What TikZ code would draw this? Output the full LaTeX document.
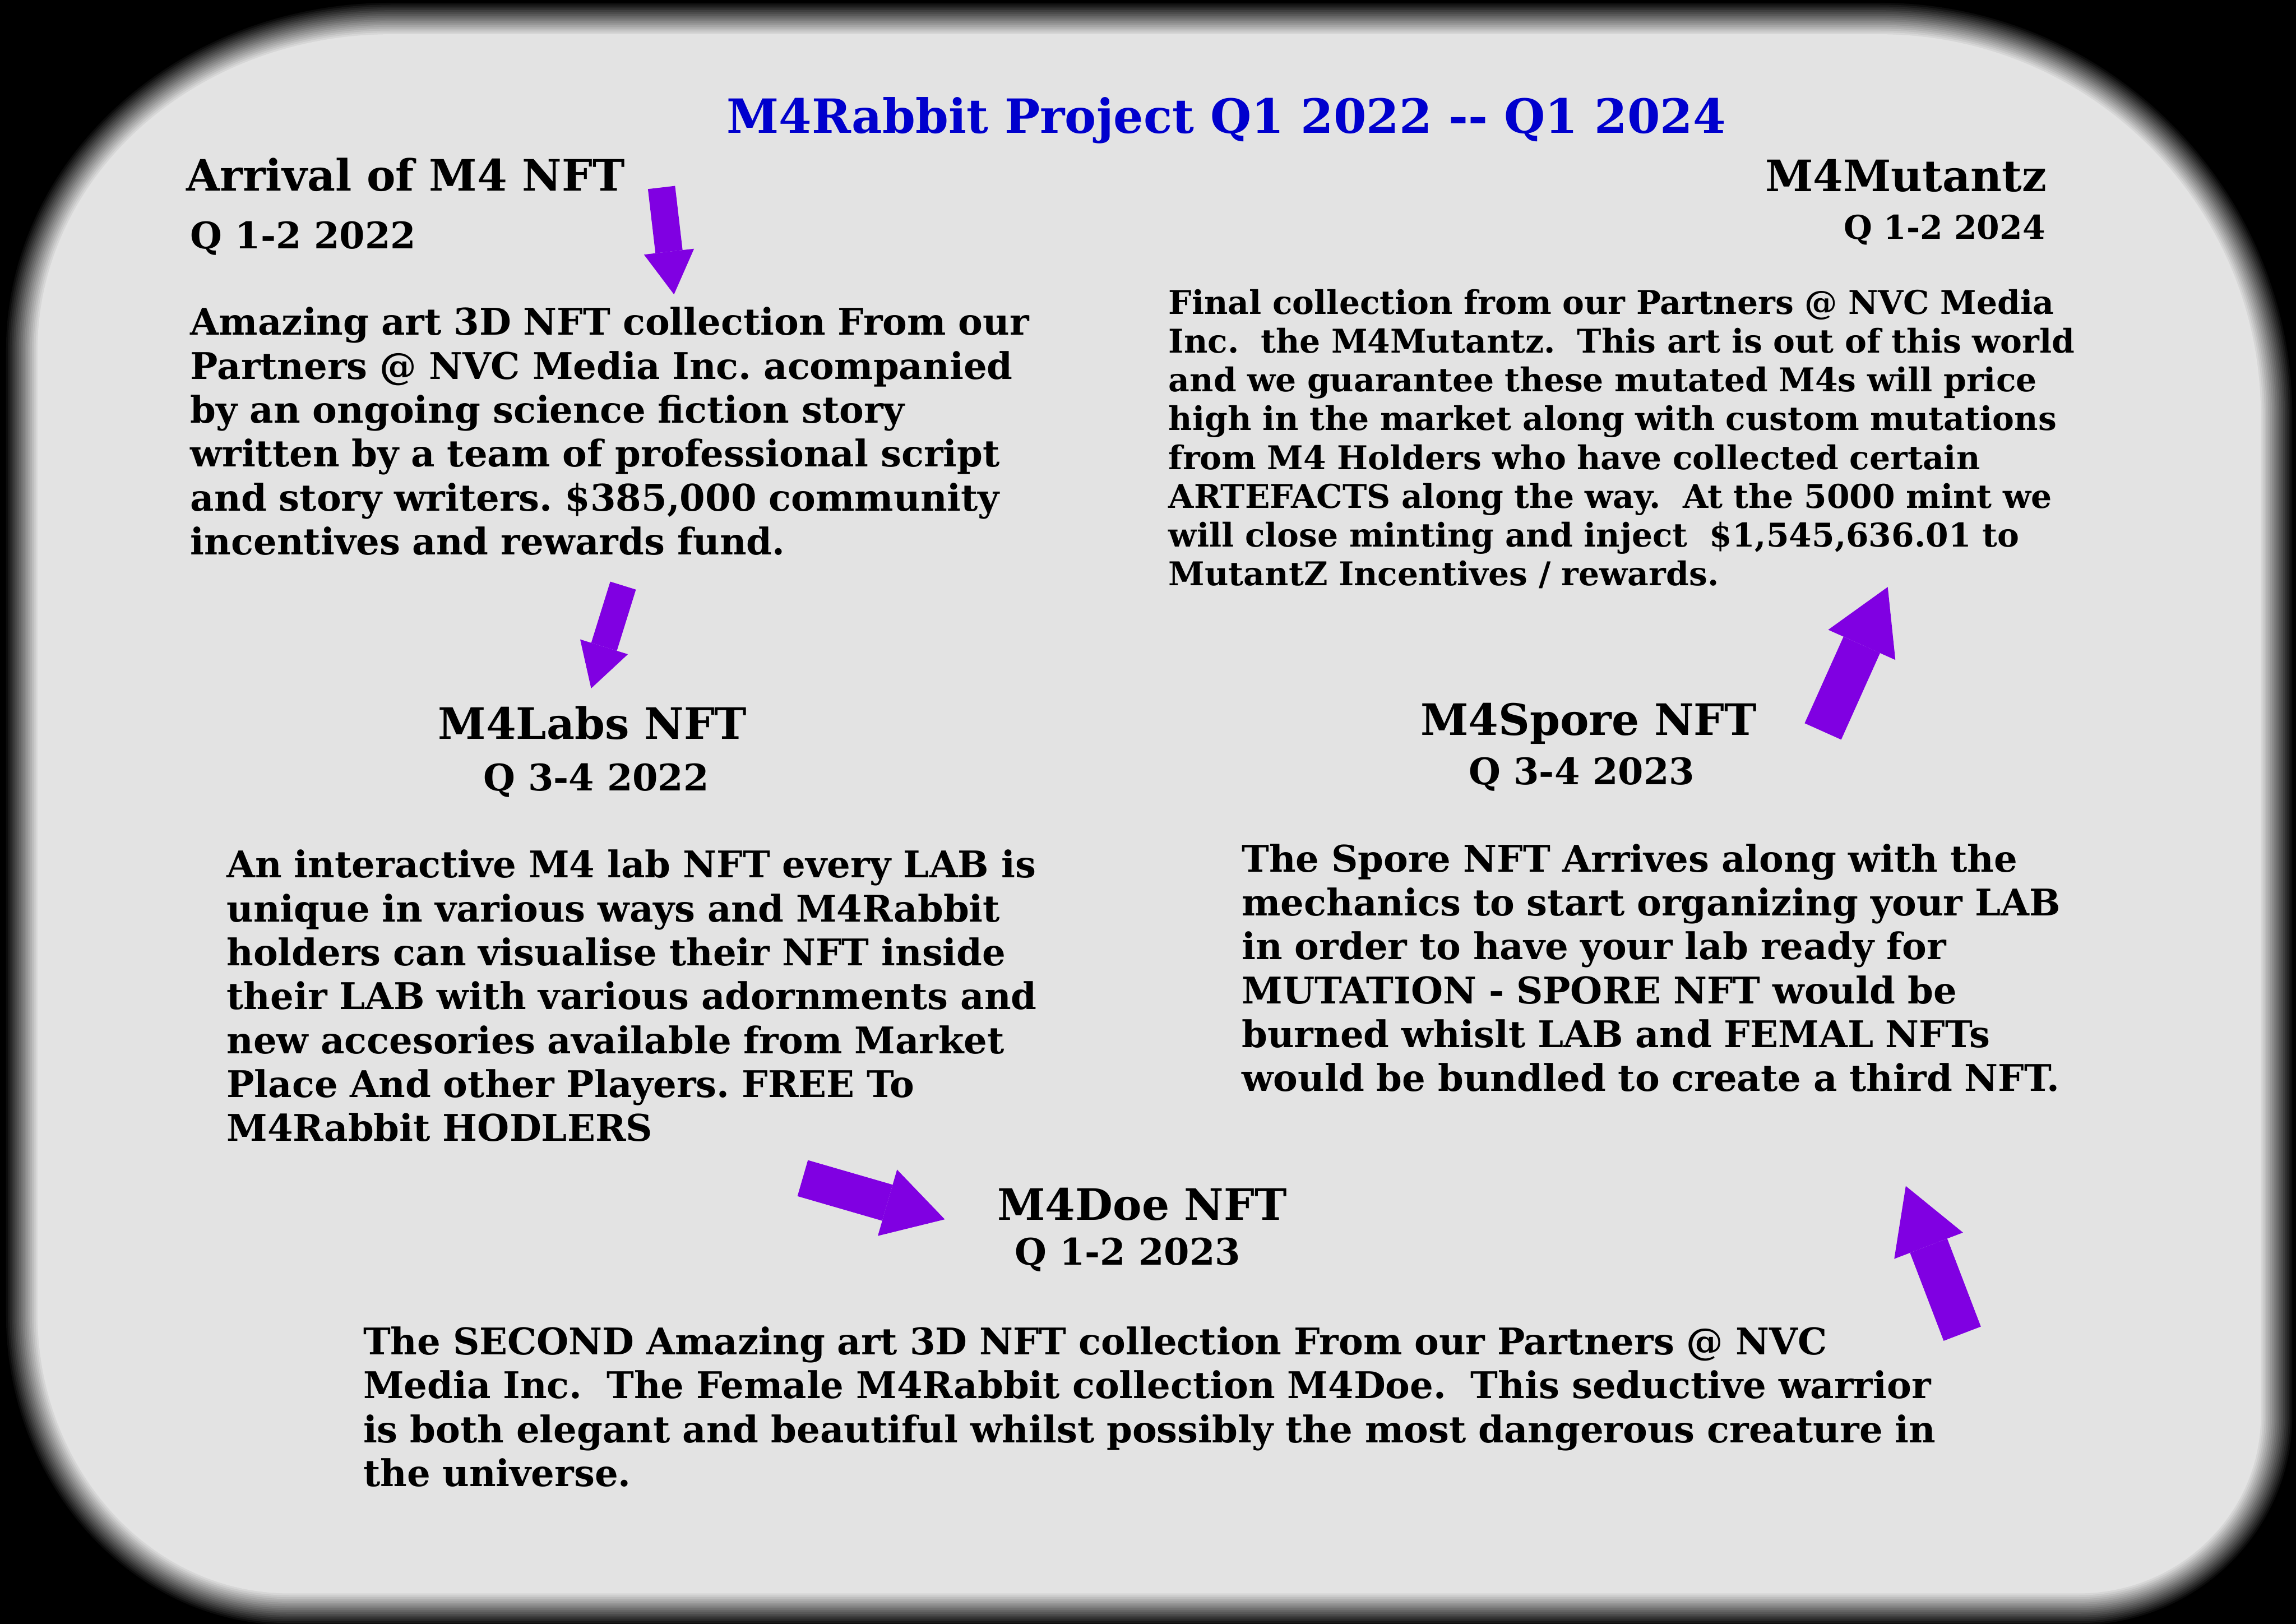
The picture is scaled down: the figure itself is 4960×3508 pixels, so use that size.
\documentclass[tikz,border=0pt]{standalone}
\usepackage{fontspec}
\setmainfont{DejaVu Serif}
\usetikzlibrary{arrows.meta}
\definecolor{panelgray}{RGB}{227,227,227}
\definecolor{titleblue}{RGB}{0,0,205}
\definecolor{arrowpurple}{RGB}{128,0,226}
\frenchspacing
% rounded panel, inset by #1 (in 0.1mm units)
\newcommand\panelpath[1]{%
  ({45+(#1)},758) .. controls ({45+(#1)},{38+(#1)+(720-(#1))*0.4477}) and ({45+(#1)+(800-(#1))*0.4477},{38+(#1)}) .. (845,{38+(#1)})
  -- (4060,{38+(#1)}) .. controls ({4920-(#1)-(860-(#1))*0.4477},{38+(#1)}) and ({4920-(#1)},{38+(#1)+(860-(#1))*0.4477}) .. ({4920-(#1)},898)
  -- ({4920-(#1)},3058) .. controls ({4920-(#1)},{3478-(#1)-(420-(#1))*0.4477}) and ({4920-(#1)-(430-(#1))*0.4477},{3478-(#1)}) .. (4490,{3478-(#1)})
  -- (625,{3478-(#1)}) .. controls ({45+(#1)+(580-(#1))*0.4477},{3478-(#1)}) and ({45+(#1)},{3478-(#1)-(640-(#1))*0.4477}) .. ({45+(#1)},2838) -- cycle}

\begin{document}
\begin{tikzpicture}[x=0.1mm, y=-0.1mm,
  title/.style={font=\fontsize{29}{34}\selectfont\bfseries, text=titleblue, inner sep=0pt, anchor=base west},
  heading/.style={font=\fontsize{26.6}{32}\selectfont\bfseries, inner sep=0pt, anchor=base west},
  quarter/.style={font=\fontsize{22.5}{27}\selectfont\bfseries, inner sep=0pt, anchor=base west},
  blurb/.style={font=\fontsize{22.6}{27}\selectfont\bfseries, inner sep=0pt, anchor=base west, text width=45cm, align=left},
  fatarrow/.style n args={3}{draw=arrowpurple, line width=#1, -{Triangle[length=#3, width=#2, line width=0pt]}}]
	\useasboundingbox (0,0) rectangle (4960,3508);
	\fill[black] (0,0) rectangle (4960,3508);
	\foreach \i in {0,...,18} {
		\pgfmathsetmacro\d{-36+4*\i}
		\pgfmathsetmacro\p{100*\i/18}
		\fill[panelgray!\p!black] \panelpath{\d};
	}
	\node[title] (ttl) at (1569,288) {M4Rabbit Project Q1 2022 -{}- Q1 2024};
	% Q1-2 2022
	\node[heading] (arrival) at (402,412) {Arrival of M4 NFT};
	\node[quarter] (arrivalq) at (411,537) {Q 1-2 2022};
	\node[blurb] (arrivaltxt) at (411,724) {Amazing art 3D NFT collection From our\\
		Partners @ NVC Media Inc. acompanied\\
		by an ongoing science fiction story\\
		written by a team of professional script\\
		and story writers. \$385,000 community\\
		incentives and rewards fund.};
	% Q3-4 2022
	\node[heading] (labs) at (946,1597) {M4Labs NFT};
	\node[quarter] (labsq) at (1044,1708) {Q 3-4 2022};
	\node[blurb] (labstxt) at (489,1896) {An interactive M4 lab NFT every LAB is\\
		unique in various ways and M4Rabbit\\
		holders can visualise their NFT inside\\
		their LAB with various adornments and\\
		new accesories available from Market\\
		Place And other Players. FREE To\\
		M4Rabbit HODLERS};
	% Q1-2 2023
	\node[heading] (doe) at (2154,2635) {M4Doe NFT};
	\node[quarter] (doeq) at (2192,2733) {Q 1-2 2023};
	\node[blurb] (doetxt) at (784,2926) {The SECOND Amazing art 3D NFT collection From our Partners @ NVC\\
		Media Inc.~ The Female M4Rabbit collection M4Doe.~ This seductive warrior\\
		is both elegant and beautiful whilst possibly the most dangerous creature in\\
		the universe.};
	% Q3-4 2023
	\node[heading] (spore) at (3068,1588) {M4Spore NFT};
	\node[quarter] (sporeq) at (3173,1695) {Q 3-4 2023};
	\node[blurb] (sporetxt) at (2682,1883) {The Spore NFT Arrives along with the\\
		mechanics to start organizing your LAB\\
		in order to have your lab ready for\\
		MUTATION - SPORE NFT would be\\
		burned whislt LAB and FEMAL NFTs\\
		would be bundled to create a third NFT.};
	% Q1-2 2024
	\node[heading, anchor=base east] (mutantz) at (4422,414) {M4Mutantz};
	\node[quarter, font=\fontsize{20.1}{24}\selectfont\bfseries, anchor=base east] (mutantzq) at (4419,516) {Q 1-2 2024};
	\node[blurb, font=\fontsize{20.1}{23.8}\selectfont\bfseries] (mutantztxt) at (2524,679) {Final collection from our Partners @ NVC Media\\
		Inc.~ the M4Mutantz.~ This art is out of this world\\
		and we guarantee these mutated M4s will price\\
		high in the market along with custom mutations\\
		from M4 Holders who have collected certain\\
		ARTEFACTS along the way.~ At the 5000 mint we\\
		will close minting and inject~ \$1,545,636.01 to\\
		MutantZ Incentives / rewards.};
	% arrows
	\coordinate (a1s) at (1429,405); \coordinate (a1e) at (1456,636);
	\coordinate (a2s) at (1346,1265); \coordinate (a2e) at (1277,1487);
	\coordinate (a3s) at (1734,2545); \coordinate (a3e) at (2041,2634);
	\coordinate (a4s) at (4239,2881); \coordinate (a4e) at (4117,2562);
	\coordinate (a5s) at (3938,1580); \coordinate (a5e) at (4078,1268);
	\draw[fatarrow={5.9mm}{10.9mm}{9.3mm}] (a1s) -- (a1e);
	\draw[fatarrow={5.8mm}{10.8mm}{9.4mm}] (a2s) -- (a2e);
	\draw[fatarrow={8.1mm}{14.9mm}{12.9mm}] (a3s) -- (a3e);
	\draw[fatarrow={8.6mm}{15.9mm}{13.8mm}] (a4s) -- (a4e);
	\draw[fatarrow={8.65mm}{15.9mm}{13.7mm}] (a5s) -- (a5e);
\end{tikzpicture}
\end{document}
